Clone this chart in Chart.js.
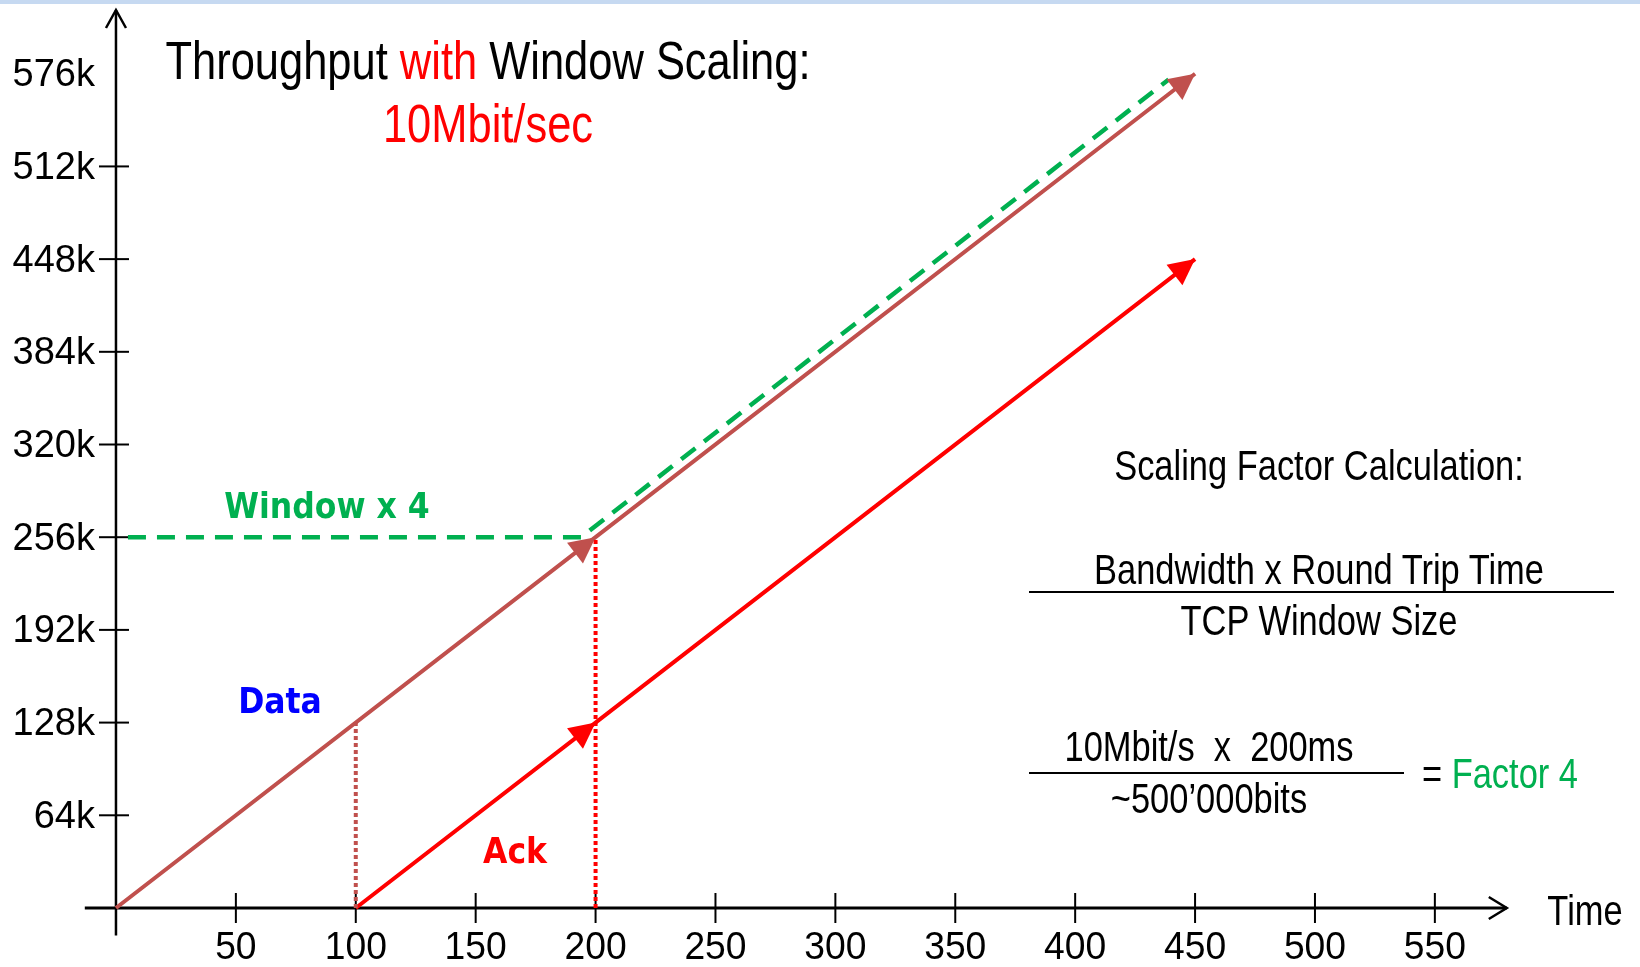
<!DOCTYPE html>
<html>
<head>
<meta charset="utf-8">
<title>Throughput with Window Scaling</title>
<script src="https://cdn.jsdelivr.net/npm/chart.js@4/dist/chart.umd.min.js"></script>
<style>
  html, body { margin: 0; padding: 0; background: #fff; }
  #wrap { position: relative; width: 1640px; height: 967px; overflow: hidden; }
  #topbar { position: absolute; left: 0; top: 0; width: 1640px; height: 4px; background: #c6d9f1; }
  #chart { position: absolute; left: 0; top: 0; }
  .t { position: absolute; white-space: nowrap; line-height: 1; transform: translate(-50%, -50%) scaleX(0.82);
       font-family: "Liberation Sans", Arial, sans-serif; color: #000; }
  .b { position: absolute; white-space: nowrap; line-height: 1; transform: translate(-50%, -50%);
       font-family: "DejaVu Sans Condensed", "DejaVu Sans", sans-serif; font-weight: bold; font-size: 35px; }
  .rule { position: absolute; height: 2px; background: #000; }
</style>
</head>
<body>
<div id="wrap">
  <div id="topbar"></div>
  <canvas id="chart" width="1640" height="967"></canvas>

  <div class="t" style="left:488px; top:60px; font-size:53px;">Throughput <span style="color:#ff0000">with</span> Window Scaling:</div>
  <div class="t" style="left:488px; top:123px; font-size:53px; color:#ff0000;">10Mbit/sec</div>

  <div class="b" style="left:327px; top:506px; color:#00b050;">Window x 4</div>
  <div class="b" style="left:280px; top:701px; color:#0000ff;">Data</div>
  <div class="b" style="left:515px; top:851px; color:#ff0000;">Ack</div>

  <div class="t" style="left:1319px; top:466px; font-size:42px;">Scaling Factor Calculation:</div>
  <div class="t" style="left:1319px; top:570px; font-size:42px;">Bandwidth x Round Trip Time</div>
  <div class="rule" style="left:1029px; top:591px; width:585px;"></div>
  <div class="t" style="left:1319px; top:621px; font-size:42px;">TCP Window Size</div>

  <div class="t" style="left:1209px; top:747px; font-size:42px;">10Mbit/s&nbsp;&nbsp;x&nbsp;&nbsp;200ms</div>
  <div class="rule" style="left:1029px; top:772px; width:375px;"></div>
  <div class="t" style="left:1209px; top:799px; font-size:42px;">~500’000bits</div>
  <div class="t" style="left:1500px; top:774px; font-size:42px;">= <span style="color:#00b050">Factor 4</span></div>

  <div class="t" style="left:1585px; top:911px; font-size:42px;">Time</div>
</div>

<script>
// Graduations des axes
const xTicks = [50, 100, 150, 200, 250, 300, 350, 400, 450, 500, 550];
const xTickLabels = ['50', '100', '150', '200', '250', '300', '350', '400', '450', '500', '550'];
const yTicks = [64000, 128000, 192000, 256000, 320000, 384000, 448000, 512000, 576000];
const yTickLabels = ['64k', '128k', '192k', '256k', '320k', '384k', '448k', '512k', '576k'];

// Série Data (temps, octets)
const dataTime = [0, 200, 450];
const dataBytes = [0, 256000, 576000];

// Série Ack
const ackTime = [100, 200, 450];
const ackBytes = [0, 128000, 448000];

// Fenêtre x 4 (ligne verte)
const windowTime = [5, 194, 439];
const windowBytes = [256000, 256000, 572000];

// Repères verticaux pointillés
const markTime = [100, 200];
const markBytes = [128000, 256000];

// Bornes des axes
const xMin = -13, xMax = 580;
const yMin = -19000, yMax = 620000;

const points = (xs, ys) => xs.map((x, i) => ({ x: x, y: ys[i] }));

// Police étroite : Liberation Sans comprimée horizontalement
const labelFont = '38px "Liberation Sans", Arial, sans-serif';

function narrowText(ctx, text, x, y, align, base, squash) {
    ctx.save();
    ctx.translate(x, y);
    ctx.scale(squash, 1);
    ctx.textAlign = align;
    ctx.textBaseline = base;
    ctx.fillText(text, 0, 0);
    ctx.restore();
}

// Fonction pour dessiner une pointe de flèche pleine
function drawHead(ctx, tipX, tipY, fromX, fromY, len, half, color) {
    const a = Math.atan2(tipY - fromY, tipX - fromX);
    ctx.save();
    ctx.translate(tipX, tipY);
    ctx.rotate(a);
    ctx.beginPath();
    ctx.moveTo(0, 0);
    ctx.lineTo(-len, -half);
    ctx.lineTo(-len, half);
    ctx.closePath();
    ctx.fillStyle = color;
    ctx.fill();
    ctx.restore();
}

function line(ctx, x1, y1, x2, y2) {
    ctx.beginPath();
    ctx.moveTo(x1, y1);
    ctx.lineTo(x2, y2);
    ctx.stroke();
}

// Axes, graduations et étiquettes dessinés avec les échelles de Chart.js
const axesPlugin = {
    id: 'axes',
    beforeDatasetsDraw(chart) {
        const { ctx, scales: { x, y } } = chart;
        const x0 = x.getPixelForValue(0);
        const y0 = y.getPixelForValue(0);
        ctx.save();
        ctx.strokeStyle = '#000';
        ctx.lineCap = 'butt';

        // axe horizontal + flèche ouverte
        ctx.lineWidth = 3;
        const xr = x.getPixelForValue(xMax);
        line(ctx, x.getPixelForValue(xMin), y0, xr, y0);
        ctx.lineWidth = 2.5;
        ctx.beginPath();
        ctx.moveTo(xr - 18, y0 - 11);
        ctx.lineTo(xr, y0);
        ctx.lineTo(xr - 18, y0 + 11);
        ctx.stroke();

        // axe vertical + flèche ouverte
        ctx.lineWidth = 2.5;
        const yt = y.getPixelForValue(yMax);
        line(ctx, x0, y.getPixelForValue(yMin), x0, yt);
        ctx.beginPath();
        ctx.moveTo(x0 - 10, yt + 18);
        ctx.lineTo(x0, yt);
        ctx.lineTo(x0 + 10, yt + 18);
        ctx.stroke();

        // graduations
        ctx.lineWidth = 2;
        xTicks.forEach(v => {
            const px = x.getPixelForValue(v);
            line(ctx, px, y0 - 15, px, y0 + 15);
        });
        yTicks.forEach(v => {
            if (v >= 576000) return; // pas de trait à 576k
            const py = y.getPixelForValue(v);
            line(ctx, x0 - 17, py, x0 + 13, py);
        });

        // étiquettes
        ctx.fillStyle = '#000';
        ctx.font = labelFont;
        yTicks.forEach((v, i) => narrowText(ctx, yTickLabels[i], x0 - 21, y.getPixelForValue(v) + 2, 'right', 'middle', 1.0));
        xTicks.forEach((v, i) => narrowText(ctx, xTickLabels[i], x.getPixelForValue(v), y0 + 22, 'center', 'top', 0.98));
        ctx.restore();
    },
    afterDatasetsDraw(chart) {
        const { ctx } = chart;
        chart.data.datasets.forEach((ds, di) => {
            if (!ds.arrowAt) return;
            const meta = chart.getDatasetMeta(di);
            ds.arrowAt.forEach(i => {
                const p = meta.data[i], q = meta.data[i - 1];
                drawHead(ctx, p.x, p.y, q.x, q.y, 26, 13, ds.borderColor);
            });
        });
    }
};

const ctx = document.getElementById('chart').getContext('2d');
window.chart = new Chart(ctx, {
    type: 'scatter',
    data: {
        datasets: [
            {
                label: 'Ack',
                data: points(ackTime, ackBytes),
                showLine: true,
                borderColor: '#ff0000',
                borderWidth: 4,
                pointRadius: 0,
                arrowAt: [1, 2],
                order: 3
            },
            {
                label: 'Data',
                data: points(dataTime, dataBytes),
                showLine: true,
                borderColor: '#c0504d',
                borderWidth: 4,
                pointRadius: 0,
                arrowAt: [1, 2],
                order: 4
            },
            {
                label: 'Window x 4',
                data: points(windowTime, windowBytes),
                showLine: true,
                borderColor: '#00b050',
                borderWidth: 4.5,
                borderDash: [18, 11],
                pointRadius: 0,
                order: 2
            },
            {
                label: 'RTT 100',
                data: [{ x: markTime[0], y: 0 }, { x: markTime[0], y: markBytes[0] }],
                showLine: true,
                borderColor: '#c0504d',
                borderWidth: 4,
                borderDash: [4, 3],
                pointRadius: 0,
                order: 1
            },
            {
                label: 'RTT 200',
                data: [{ x: markTime[1], y: 0 }, { x: markTime[1], y: markBytes[1] }],
                showLine: true,
                borderColor: '#ff0000',
                borderWidth: 4,
                borderDash: [4, 3],
                pointRadius: 0,
                order: 1
            }
        ]
    },
    options: {
        responsive: false,
        animation: false,
        events: [],
        layout: { padding: { left: 84.8, right: 133.2, top: 10, bottom: 31.5 } },
        plugins: { legend: { display: false }, tooltip: { enabled: false } },
        scales: {
            x: { type: 'linear', min: xMin, max: xMax, display: false },
            y: { type: 'linear', min: yMin, max: yMax, display: false }
        }
    },
    plugins: [axesPlugin]
});
</script>
</body>
</html>
